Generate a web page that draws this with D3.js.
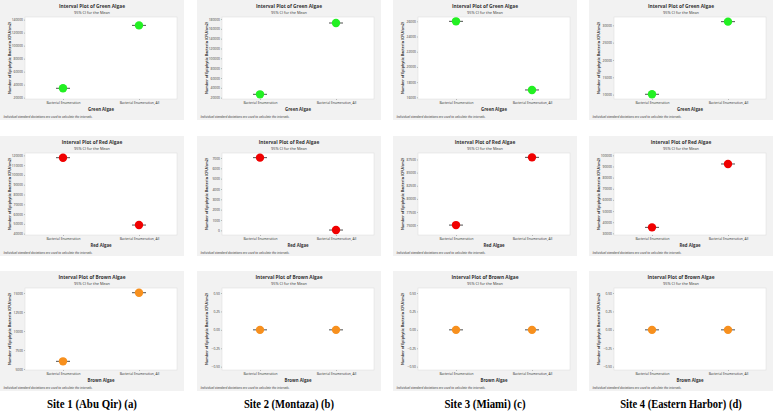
<!DOCTYPE html>
<html>
<head>
<meta charset="utf-8">
<script src="https://cdn.jsdelivr.net/npm/d3@7"></script>
<style>
  body { margin: 0; background: #fff; }
  text { font-family: "Open Sans", "Noto Sans", sans-serif; fill: #333; }
</style>
</head>
<body>
<script>
const width = 777;
const height = 414;

// data
const sites = ['Site 1 (Abu Qir) (a)', 'Site 2 (Montaza) (b)', 'Site 3 (Miami) (c)', 'Site 4 (Eastern Harbor) (d)'];
const algae = ['Green Algae', 'Red Algae', 'Brown Algae'];
const categories = ['Bacterial Enumeration', 'Bacterial Enumeration, All'];
const algaeColors = ['#22f022', '#f00000', '#f7901e'];

// means per site: [Bacterial Enumeration, Bacterial Enumeration, All]
const greenMeans = [[34400, 131200], [26800, 171800], [26000, 16970], [10100, 31060]];
const redMeans = [[117600, 48800], [7030, 30], [75000, 87910], [35360, 92250]];
const brownMeans = [[6010, 15040], [0, 0], [0, 0], [0, 0]];

// y axis ranges per site
const greenDomains = [[17940, 144100], [17300, 184000], [15780, 26570], [8740, 32400]];
const redDomains = [[38640, 122400], [-450, 7480], [73110, 88740], [28510, 102100]];
const brownDomains = [[4870, 15660], [-0.545, 0.568], [-0.545, 0.568], [-0.545, 0.568]];

// tick values per site
const greenTicks = [
  [20000, 40000, 60000, 80000, 100000, 120000, 140000],
  [20000, 40000, 60000, 80000, 100000, 120000, 140000, 160000, 180000],
  [16000, 18000, 20000, 22000, 24000, 26000],
  [10000, 15000, 20000, 25000, 30000]
];
const redTicks = [
  [40000, 50000, 60000, 70000, 80000, 90000, 100000, 110000, 120000],
  [0, 1000, 2000, 3000, 4000, 5000, 6000, 7000],
  [75000, 77500, 80000, 82500, 85000, 87500],
  [30000, 40000, 50000, 60000, 70000, 80000, 90000, 100000]
];
const brownTicks = [
  [5000, 7500, 10000, 12500, 15000],
  [-0.5, -0.25, 0, 0.25, 0.5],
  [-0.5, -0.25, 0, 0.25, 0.5],
  [-0.5, -0.25, 0, 0.25, 0.5]
];

const meansByAlgae = [greenMeans, redMeans, brownMeans];
const domainsByAlgae = [greenDomains, redDomains, brownDomains];
const ticksByAlgae = [greenTicks, redTicks, brownTicks];

const svg = d3.select('body').append('svg').attr('width', width).attr('height', height);

// panel layout
const colX = [0, 197, 393, 589];
const rowY = [0, 136, 271];
const boxW = 184, boxH = 120;
const plot = {left: 25, right: 177, top: 17, bottom: 99};

algae.forEach((alga, r) => {
  sites.forEach((site, c) => {
    const g = svg.append('g').attr('transform', `translate(${colX[c]},${rowY[r]})`);

    g.append('rect').attr('width', boxW).attr('height', boxH).attr('fill', '#f2f2f2');
    g.append('rect')
      .attr('x', plot.left).attr('y', plot.top)
      .attr('width', plot.right - plot.left).attr('height', plot.bottom - plot.top)
      .attr('fill', '#fff').attr('stroke', '#dcdcdc').attr('stroke-width', 0.5);

    const x = d3.scalePoint().domain(categories).range([plot.left, plot.right]).padding(0.5);
    const y = d3.scaleLinear().domain(domainsByAlgae[r][c]).range([plot.bottom, plot.top]);

    const ticks = ticksByAlgae[r][c];
    const fmt = Math.abs(ticks[ticks.length - 1]) < 1 ? d3.format('.2f') : d3.format('d');

    const yAxis = g.append('g')
      .attr('transform', `translate(${plot.left},0)`)
      .call(d3.axisLeft(y).tickValues(ticks).tickFormat(fmt).tickSize(1).tickPadding(1));
    yAxis.select('.domain').remove();
    yAxis.selectAll('line').attr('stroke', '#666').attr('stroke-width', 0.4);
    yAxis.selectAll('text').attr('font-size', 3.3).attr('fill', '#333');

    const xAxis = g.append('g')
      .attr('transform', `translate(0,${plot.bottom})`)
      .call(d3.axisBottom(x).tickSize(1).tickPadding(1.5));
    xAxis.select('.domain').remove();
    xAxis.selectAll('line').attr('stroke', '#666').attr('stroke-width', 0.4);
    xAxis.selectAll('text').attr('font-size', 3.3).attr('fill', '#333');

    // titles
    g.append('text').attr('x', boxW / 2).attr('y', 8.3).attr('text-anchor', 'middle')
      .attr('font-size', 4.8).attr('font-weight', 'bold').attr('fill', '#222').text(`Interval Plot of ${alga}`);
    g.append('text').attr('x', boxW / 2).attr('y', 14.3).attr('text-anchor', 'middle')
      .attr('font-size', 3.8).text('95% CI for the Mean');
    g.append('text').attr('x', (plot.left + plot.right) / 2).attr('y', 111).attr('text-anchor', 'middle')
      .attr('font-size', 4.3).attr('font-weight', 'bold').text(alga);
    g.append('text')
      .attr('transform', `translate(10.5,${(plot.top + plot.bottom) / 2}) rotate(-90)`)
      .attr('text-anchor', 'middle').attr('font-size', 3.6).attr('font-weight', 'bold')
      .text('Number of Epiphytic Bacteria (CFU/cm2)');
    g.append('text').attr('x', 3.5).attr('y', 118.3).attr('font-size', 3.1).attr('font-style', 'italic')
      .text('Individual standard deviations are used to calculate the intervals.');

    // intervals and means
    const means = meansByAlgae[r][c];
    const pts = g.selectAll('.pt').data(categories.map((k, i) => ({k, v: means[i]}))).enter().append('g');
    pts.append('line')
      .attr('x1', d => x(d.k) - 7).attr('x2', d => x(d.k) + 7)
      .attr('y1', d => y(d.v)).attr('y2', d => y(d.v))
      .attr('stroke', '#222').attr('stroke-width', 0.8);
    pts.append('circle')
      .attr('cx', d => x(d.k)).attr('cy', d => y(d.v)).attr('r', 4.2)
      .attr('fill', algaeColors[r]);
  });
});

// site captions
svg.selectAll('.caption').data(sites).enter().append('text')
  .attr('class', 'caption')
  .attr('x', (d, i) => colX[i] + boxW / 2)
  .attr('y', 408)
  .attr('text-anchor', 'middle')
  .style('font-family', '"Liberation Serif", "Times New Roman", serif')
  .style('font-weight', 'bold')
  .style('font-size', '13.5px')
  .style('fill', '#000')
  .attr('textLength', d => d.length * 4.5)
  .attr('lengthAdjust', 'spacingAndGlyphs')
  .text(d => d);
</script>
</body>
</html>
